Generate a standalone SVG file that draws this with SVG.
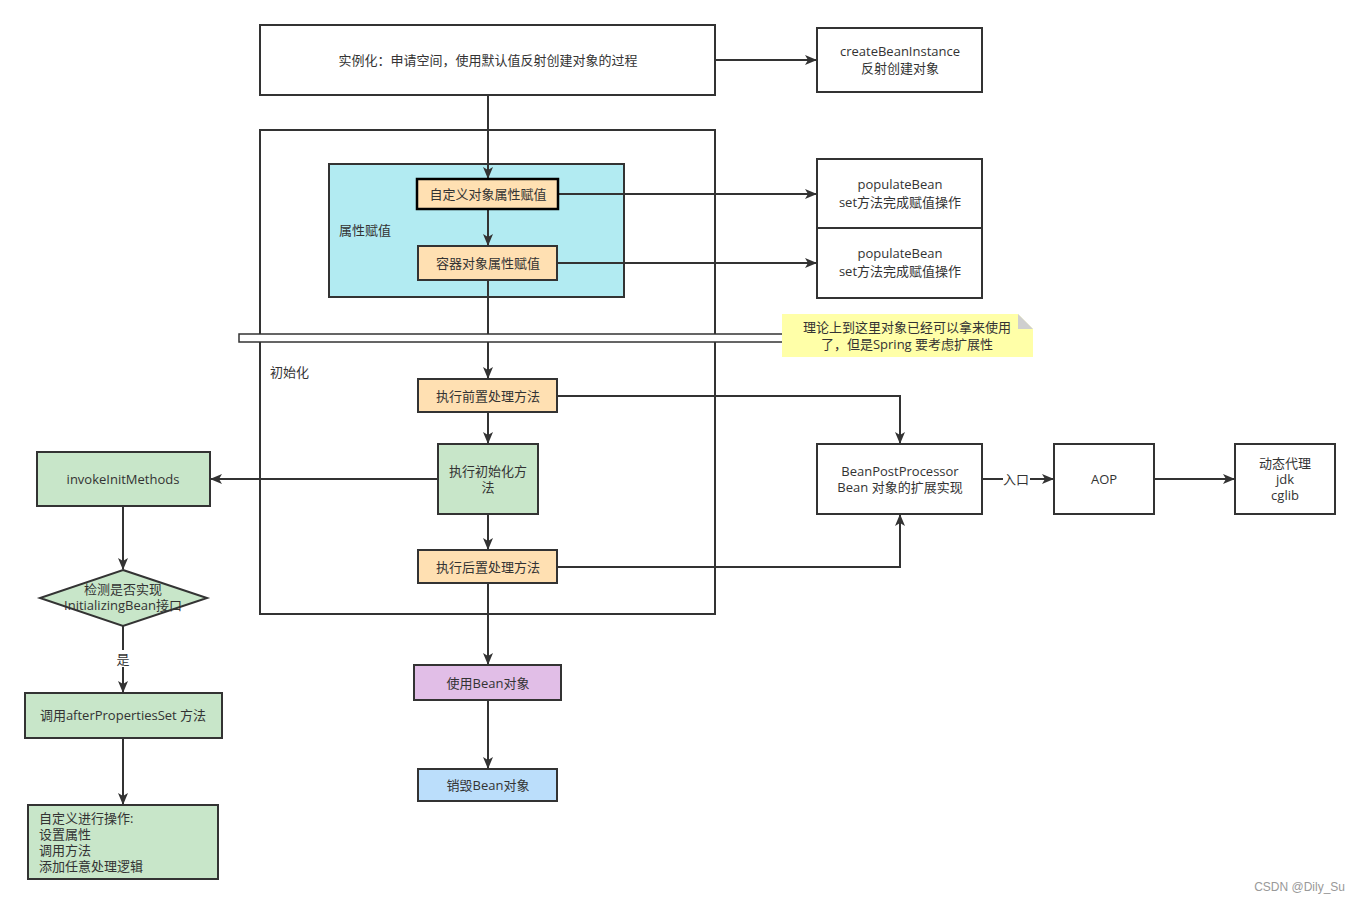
<svg xmlns="http://www.w3.org/2000/svg" width="1360" height="904" viewBox="0 0 1360 904">
<defs>
<marker id="arr" viewBox="0 0 12 10" refX="11" refY="5" markerWidth="12" markerHeight="10" markerUnits="userSpaceOnUse" orient="auto">
<path d="M0,0 L12,5 L0,10 L3,5 z" fill="#333"/>
</marker>
<style>
text{font-family:"Open Sans","Noto Sans CJK SC",sans-serif;font-size:13px;fill:#333;}
.c{text-anchor:middle;}
.box{stroke:#333;stroke-width:2;}
.w{fill:#fff;}
.o{fill:#ffe0b2;}
.g{fill:#c8e6c9;}
.ln{fill:none;stroke:#333;stroke-width:2;}
.ar{fill:none;stroke:#333;stroke-width:2;marker-end:url(#arr);}
</style>
</defs>
<rect width="1360" height="904" fill="#fff"/>

<g id="init-container">
<rect class="box" x="260" y="130" width="455" height="484" fill="none"/>
<text x="270" y="377">初始化</text>
</g>
<g id="attr-container">
<rect class="box" x="329" y="164" width="295" height="133" fill="#b2ebf2"/>
<text x="339" y="235">属性赋值</text>
</g>

<g id="connectors">
<path class="ar" d="M716,60 H816"/>
<path class="ar" d="M488,95 V178"/>
<path class="ar" d="M488,209 V245"/>
<path class="ar" d="M558,194 H816"/>
<path class="ar" d="M557,263 H816"/>
<path class="ar" d="M488,280 V378"/>
<path class="ar" d="M488,412 V443"/>
<path class="ar" d="M488,514 V549"/>
<path class="ar" d="M488,583 V664"/>
<path class="ar" d="M488,700 V768"/>
<path class="ar" d="M557,396 H900 V443"/>
<path class="ar" d="M557,567 H900 V515"/>
<path class="ar" d="M438,479 H211"/>
<path class="ln" d="M982,479 H1003"/>
<path class="ar" d="M1030,479 H1053"/>
<path class="ar" d="M1154,479 H1234"/>
<path class="ar" d="M123,506 V569"/>
<path class="ln" d="M123,626 V650"/>
<path class="ar" d="M123,667 V692"/>
<path class="ar" d="M123,738 V804"/>
<text class="c" x="1016" y="484">入口</text>
<text class="c" x="123" y="664">是</text>
</g>

<g id="instantiate">
<rect class="box w" x="260" y="25" width="455" height="70"/>
<text class="c" x="488" y="65">实例化：申请空间，使用默认值反射创建对象的过程</text>
</g>
<g id="createBeanInstance">
<rect class="box w" x="817" y="28" width="165" height="64"/>
<text class="c" x="900" y="56">createBeanInstance</text>
<text class="c" x="900" y="73">反射创建对象</text>
</g>
<g id="custom-attr">
<rect x="417" y="179" width="141" height="30" fill="#ffe0b2" stroke="#000" stroke-width="2.5"/>
<text class="c" x="488" y="199">自定义对象属性赋值</text>
</g>
<g id="container-attr">
<rect class="box o" x="418" y="246" width="139" height="34"/>
<text class="c" x="488" y="268">容器对象属性赋值</text>
</g>
<g id="populate1">
<rect class="box w" x="817" y="159" width="165" height="69"/>
<text class="c" x="900" y="189">populateBean</text>
<text class="c" x="900" y="207">set方法完成赋值操作</text>
</g>
<g id="populate2">
<rect class="box w" x="817" y="228" width="165" height="70"/>
<text class="c" x="900" y="258">populateBean</text>
<text class="c" x="900" y="276">set方法完成赋值操作</text>
</g>
<g id="separator">
<rect x="239" y="334" width="780" height="8" fill="#fff" stroke="#333" stroke-width="1.5"/>
</g>
<g id="note">
<path d="M782,314 H1018 L1033,329 V357 H782 Z" fill="#ffffa8"/>
<path d="M1018,314 L1033,329 H1018 Z" fill="#cfcfcf"/>
<text class="c" x="907" y="332">理论上到这里对象已经可以拿来使用</text>
<text class="c" x="907" y="349">了，但是Spring 要考虑扩展性</text>
</g>
<g id="pre-process">
<rect class="box o" x="418" y="379" width="139" height="33"/>
<text class="c" x="488" y="401">执行前置处理方法</text>
</g>
<g id="init-method">
<rect class="box g" x="438" y="444" width="100" height="70"/>
<text class="c" x="488" y="476">执行初始化方</text>
<text class="c" x="488" y="492">法</text>
</g>
<g id="post-process">
<rect class="box o" x="418" y="550" width="139" height="33"/>
<text class="c" x="488" y="572">执行后置处理方法</text>
</g>
<g id="use-bean">
<rect class="box" x="414" y="665" width="147" height="35" fill="#e1bee7"/>
<text class="c" x="488" y="688">使用Bean对象</text>
</g>
<g id="destroy-bean">
<rect class="box" x="418" y="769" width="139" height="32" fill="#bbdefb"/>
<text class="c" x="488" y="790">销毁Bean对象</text>
</g>
<g id="bpp">
<rect class="box w" x="817" y="444" width="165" height="70"/>
<text class="c" x="900" y="476">BeanPostProcessor</text>
<text class="c" x="900" y="492">Bean 对象的扩展实现</text>
</g>
<g id="aop">
<rect class="box w" x="1054" y="444" width="100" height="70"/>
<text class="c" x="1104" y="484">AOP</text>
</g>
<g id="proxy">
<rect class="box w" x="1235" y="444" width="100" height="70"/>
<text class="c" x="1285" y="468">动态代理</text>
<text class="c" x="1285" y="484">jdk</text>
<text class="c" x="1285" y="500">cglib</text>
</g>
<g id="invokeInitMethods">
<rect class="box g" x="37" y="452" width="173" height="54"/>
<text class="c" x="123" y="484">invokeInitMethods</text>
</g>
<g id="check">
<path class="box g" d="M123,570 L207,598 L123,626 L40,598 Z"/>
<text class="c" x="123" y="594">检测是否实现</text>
<text class="c" x="123" y="610">InitializingBean接口</text>
</g>
<g id="afterPropertiesSet">
<rect class="box g" x="25" y="693" width="197" height="45"/>
<text class="c" x="123" y="720">调用afterPropertiesSet 方法</text>
</g>
<g id="custom-ops">
<rect class="box g" x="28" y="805" width="190" height="74"/>
<text x="39" y="823">自定义进行操作:</text>
<text x="39" y="839">设置属性</text>
<text x="39" y="855">调用方法</text>
<text x="39" y="871">添加任意处理逻辑</text>
</g>
<text x="1345" y="891" text-anchor="end" style="font-size:12px;fill:#999;font-family:'Liberation Sans',sans-serif">CSDN @Dily_Su</text>
</svg>
